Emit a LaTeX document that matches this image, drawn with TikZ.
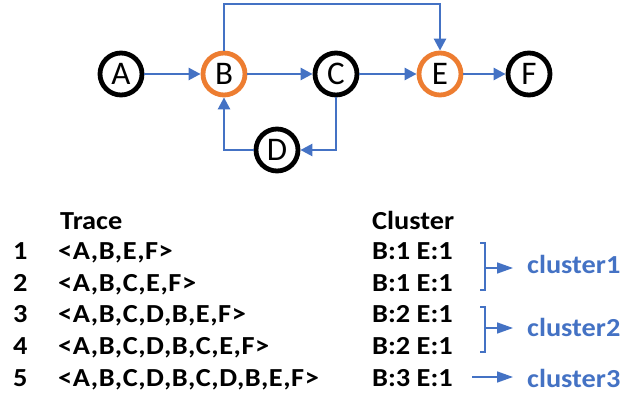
\documentclass[tikz,border=0pt]{standalone}
\usepackage{fontspec}
\setmainfont[FakeStretch=1.09]{Carlito}
\newfontfamily\statefont{Carlito}
\usetikzlibrary{arrows.meta}
\definecolor{linkblue}{HTML}{4472C4}
\definecolor{hotorange}{HTML}{ED7D31}
\begin{document}
\begin{tikzpicture}[x=1pt,y=-1pt,
  state/.style={circle,draw=black,line width=4.8pt,fill=white,minimum size=42pt,inner sep=0pt,
    font=\statefont\fontsize{33}{33}\selectfont},
  hot/.style={state,draw=hotorange},
  link/.style={draw=linkblue,line width=2.6pt,-{Triangle[length=12pt,width=12pt]}},
  bracelink/.style={draw=linkblue,line width=1.6pt},
  tab/.style={anchor=base west,inner sep=0pt,font=\fontsize{26}{30}\bfseries\selectfont},
  tracetab/.style={tab,font=\fontsize{26}{30}\bfseries\selectfont\addfontfeatures{LetterSpace=2.2}},
  clabel/.style={tab,text=linkblue}]
\useasboundingbox (0,0) rectangle (622,396);
% process graph
\node[state] (A) at (121,74) {A};
\node[hot]   (B) at (224,74) {B};
\node[state] (C) at (336,74) {C};
\node[state] (D) at (277,150) {D};
\node[hot]   (E) at (440,74) {E};
\node[state] (F) at (529,74) {F};
\coordinate (top) at (0,4);
\draw[link] (A) -- (B);
\draw[link] (B) -- (C);
\draw[link] (C) -- (E);
\draw[link] (E) -- (F);
\draw[link] (B.north) -- (B.north|-top) -| (E.north);
\draw[link] (C.south) |- (D.east);
\draw[link] (D.west) -| (B.south);
% trace table
\node[tab] (th) at (60,229) {Trace};
\node[tab] (ch) at (372,229) {Cluster};
\foreach \i/\t/\c [count=\k] in {1/{<A,B,E,F>}/{B:1 E:1},
  2/{<A,B,C,E,F>}/{B:1 E:1},
  3/{<A,B,C,D,B,E,F>}/{B:2 E:1},
  4/{<A,B,C,D,B,C,E,F>}/{B:2 E:1},
  5/{<A,B,C,D,B,C,D,B,E,F>}/{B:3 E:1}}{
  \node[tab] (n\k) at (13,228+31.6*\k) {\i};
  \node[tracetab] (t\k) at (58,228+31.6*\k) {\t};
  \node[tab] (c\k) at (372,228+31.6*\k) {\c};
}
% cluster brackets
\coordinate (b1t) at (480,243);
\coordinate (b1b) at (480,290);
\coordinate (b1m) at (485,268);
\coordinate (b2t) at (480,307);
\coordinate (b2b) at (480,352);
\coordinate (b2m) at (485,328);
\coordinate (b3s) at (472,377);
\draw[bracelink] (b1t) -- ++(5,0) |- (b1b);
\draw[bracelink] (b2t) -- ++(5,0) |- (b2b);
\node[clabel] (k1) at (527,273) {cluster1};
\node[clabel] (k2) at (527,336) {cluster2};
\node[clabel] (k3) at (527,387) {cluster3};
\draw[bracelink,-{Triangle[length=16pt,width=11pt]}] (b1m) -- ([xshift=-14pt]k1.west|-b1m);
\draw[bracelink,-{Triangle[length=16pt,width=11pt]}] (b2m) -- ([xshift=-14pt]k2.west|-b2m);
\draw[bracelink,-{Triangle[length=16pt,width=11pt]}] (b3s) -- ([xshift=-14pt]k3.west|-b3s);
\end{tikzpicture}
\end{document}
